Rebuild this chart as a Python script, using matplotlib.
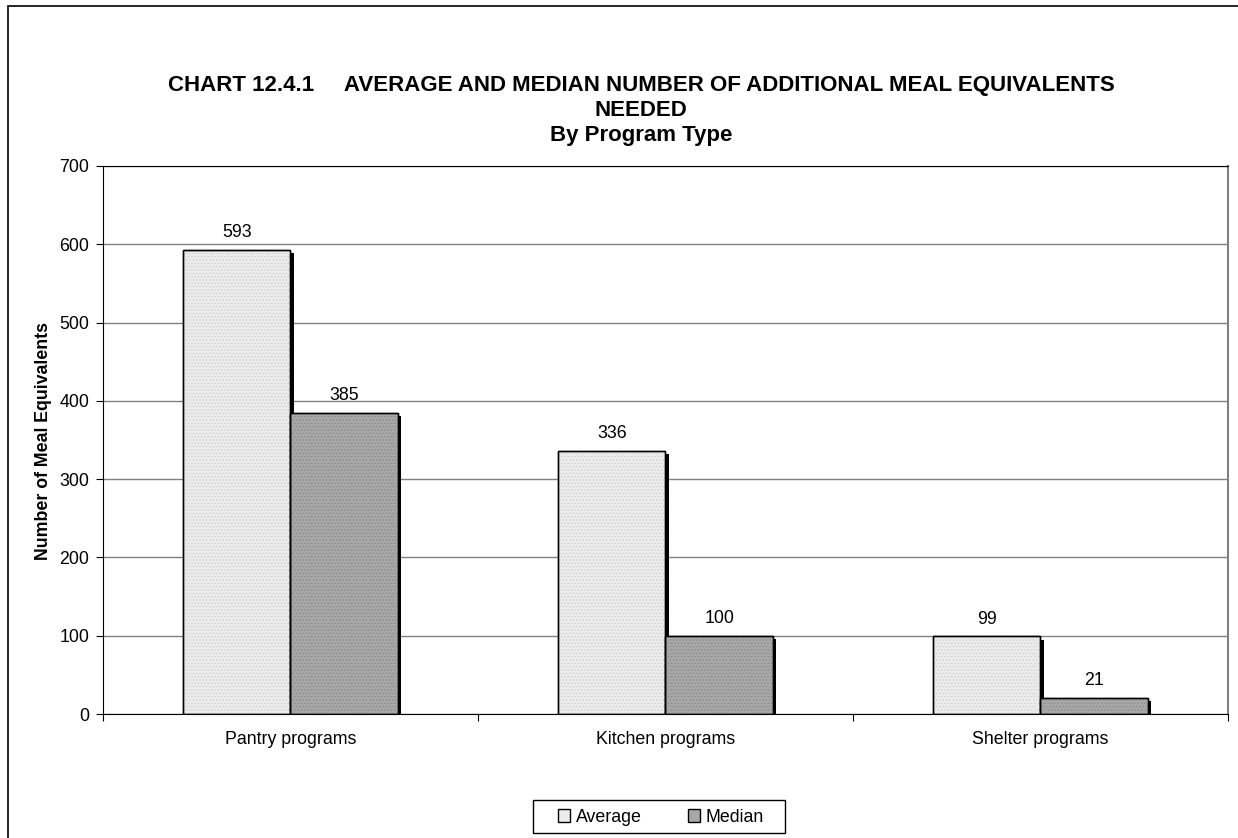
import matplotlib
matplotlib.use("Agg")
import matplotlib.pyplot as plt
import matplotlib.patheffects as pe
from matplotlib.patches import Rectangle, Patch
import numpy as np

plt.rcParams['font.family'] = ['Liberation Sans', 'DejaVu Sans']

# data
categories = ["Pantry programs", "Kitchen programs", "Shelter programs"]
average = [593, 336, 99]
median = [385, 100, 21]
series_names = ["Average", "Median"]

FS = 12.8

fig = plt.figure(figsize=(12.38, 8.38), dpi=100)
ax = fig.add_axes([103/1238, 1 - 714/838, (1228 - 103)/1238, (714 - 166)/838])

# outer frame of the chart
fig.patches.append(Rectangle((8/1238, -0.05), 1.05, 1 - 6/838 + 0.05,
                             transform=fig.transFigure, fill=False,
                             edgecolor='black', linewidth=1.2, zorder=0))

x = np.arange(len(categories))
w = 0.287
shadow = [pe.SimplePatchShadow(offset=(2.3, -2.3), shadow_rgbFace='black', alpha=1.0), pe.Normal()]

plt.rcParams['hatch.linewidth'] = 0.6
for vals, off, face, hc in [(average, -w/2, '#ececec', '#d0d0d0'),
                            (median, w/2, '#a8a8a8', '#8a8a8a')]:
    bars = ax.bar(x + off, vals, w, color=face, edgecolor='black', linewidth=1.0,
                  zorder=3, path_effects=shadow)
    # stipple texture
    ax.bar(x + off, vals, w, color='none', edgecolor=hc, hatch='.....',
           linewidth=0, zorder=4)
    ax.bar(x + off, vals, w, color='none', edgecolor='black', linewidth=1.0, zorder=5)
    for b, v in zip(bars, vals):
        ax.annotate(str(v), (b.get_x() + b.get_width()/2, v), xytext=(0, 12.5),
                    textcoords='offset points', ha='center', va='center',
                    fontsize=FS, zorder=6)

ax.set_xlim(-0.5, 2.5)
ax.set_ylim(0, 700)
ax.set_yticks(range(0, 701, 100))
ax.yaxis.grid(True, color='#808080', linewidth=1.0, zorder=0)
ax.set_axisbelow(True)
ax.tick_params(axis='y', direction='out', length=5, labelsize=FS, pad=5)

ax.set_xticks([-0.5, 0.5, 1.5, 2.5])
ax.set_xticklabels([])
ax.set_xticks(x, minor=True)
ax.set_xticklabels(categories, minor=True, fontsize=FS)
ax.tick_params(axis='x', which='major', direction='out', length=5)
ax.tick_params(axis='x', which='minor', length=0, pad=12)

ax.spines['top'].set_color('black')
ax.spines['right'].set_color('#808080')
ax.spines['right'].set_linewidth(1.5)
for s in ax.spines.values():
    s.set_zorder(7)

fig.text(44/1238, 1 - 441/838, "Number of Meal Equivalents", rotation=90,
         ha='center', va='center', fontsize=FS, fontweight='bold')

TS = 16
fig.text(641/1238, 1 - 86/838, "CHART 12.4.1     AVERAGE AND MEDIAN NUMBER OF ADDITIONAL MEAL EQUIVALENTS",
         ha='center', va='center', fontsize=TS, fontweight='bold')
fig.text(641/1238, 1 - 110/838, "NEEDED", ha='center', va='center', fontsize=TS, fontweight='bold')
fig.text(641/1238, 1 - 135/838, "By Program Type", ha='center', va='center', fontsize=TS, fontweight='bold')

handles = [Patch(facecolor='#ececec', edgecolor='black'),
           Patch(facecolor='#a8a8a8', edgecolor='black')]
leg = fig.legend(handles, series_names, loc='center', bbox_to_anchor=(661/1238, 1 - 817/838),
                 ncol=2, fontsize=FS, frameon=False,
                 handlelength=0.7, handleheight=0.7, handletextpad=0.3, columnspacing=2.6,
                 borderpad=0.45)
# legend box drawn wider than the entries, as in the original
fig.patches.append(Rectangle((533/1238, 1 - 833/838), 252/1238, 33/838,
                             transform=fig.transFigure, fill=False,
                             edgecolor='black', linewidth=1.0, zorder=5))

fig.savefig("out.png", dpi=100)
